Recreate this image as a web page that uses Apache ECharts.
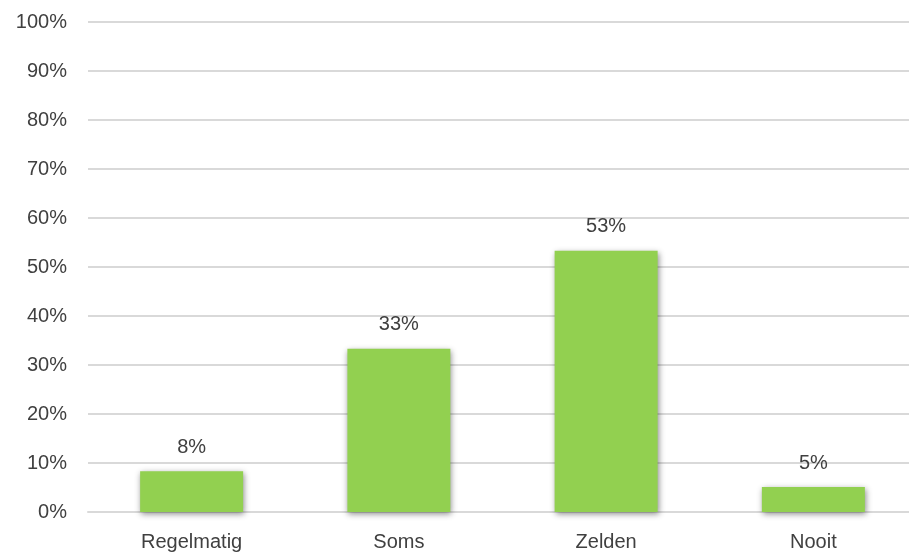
<!DOCTYPE html>
<html>
<head>
<meta charset="utf-8">
<script src="https://cdn.jsdelivr.net/npm/echarts@6/dist/echarts.min.js"></script>
<style>html,body{margin:0;padding:0;background:#fff}#c{width:909px;height:560px}</style>
</head>
<body>
<div id="c"></div>
<script>
const categories = ["Regelmatig", "Soms", "Zelden", "Nooit"];
const values = [8.3, 33.3, 53.3, 5.1];
const yTicks = [0, 10, 20, 30, 40, 50, 60, 70, 80, 90, 100];

const FONT = '"Liberation Sans", Arial, sans-serif';
const chart = echarts.init(document.getElementById('c'), null, {renderer: 'canvas'});
chart.setOption({
  animation: false,
  grid: {left: 88, top: 22, width: 829, bottom: 48, containLabel: false, outerBoundsMode: 'none'},
  xAxis: {
    type: 'category',
    data: categories,
    axisLine: {show: true, lineStyle: {color: '#d9d9d9', width: 2}},
    axisTick: {show: false},
    axisLabel: {color: '#404040', fontFamily: FONT, fontSize: 20, margin: 20}
  },
  yAxis: {
    type: 'value',
    min: yTicks[0],
    max: yTicks[yTicks.length - 1],
    interval: 10,
    axisLine: {show: false},
    axisTick: {show: false},
    splitLine: {lineStyle: {color: '#d9d9d9', width: 2}},
    axisLabel: {color: '#404040', fontFamily: FONT, fontSize: 20, margin: 21, formatter: v => v + '%'}
  },
  series: [{
    type: 'bar',
    data: values,
    barWidth: 103,
    itemStyle: {
      color: '#92d050',
      shadowColor: 'rgba(0,0,0,0.45)',
      shadowBlur: 6,
      shadowOffsetX: 1,
      shadowOffsetY: 2
    },
    label: {
      show: true,
      position: 'top',
      distance: 14,
      color: '#404040',
      fontFamily: FONT,
      fontSize: 20,
      formatter: p => Math.round(p.value) + '%'
    }
  }]
});
</script>
</body>
</html>
